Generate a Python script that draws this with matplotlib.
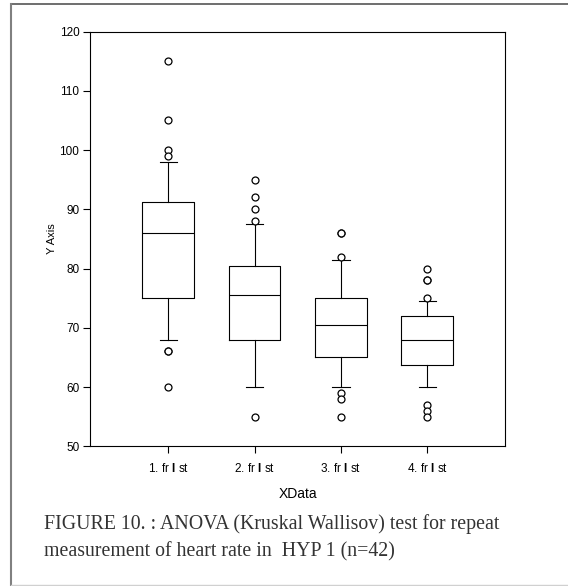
import matplotlib

matplotlib.use("Agg")

import matplotlib.pyplot as plt
from matplotlib.lines import Line2D

plt.rcParams["font.family"] = ["Liberation Sans", "DejaVu Sans"]
plt.rcParams["mathtext.fontset"] = "custom"
plt.rcParams["mathtext.bf"] = "Liberation Sans:bold"
plt.rcParams["mathtext.rm"] = "Liberation Sans"

labels = ["1. fr $\\mathbf{I}$ st", "2. fr $\\mathbf{I}$ st", "3. fr $\\mathbf{I}$ st", "4. fr $\\mathbf{I}$ st"]
q1 = [75, 68, 65, 63.75]
median = [86, 75.5, 70.5, 68]
q3 = [91.25, 80.5, 75, 72]
whisker_low = [68, 60, 60, 60]
whisker_high = [98, 87.5, 81.5, 74.5]
outliers = [
    [115, 105, 100, 99, 66, 66, 60],
    [95, 92, 90, 88, 55],
    [86, 86, 82, 59, 58, 55],
    [80, 78, 78, 75, 57, 56, 55],
]
y_ticks = [50, 60, 70, 80, 90, 100, 110, 120]
caption = [
    "FIGURE 10. : ANOVA (Kruskal Wallisov) test for repeat",
    "measurement of heart rate in  HYP 1 (n=42)",
]

stats = []
for i in range(len(labels)):
    stats.append(dict(q1=q1[i], med=median[i], q3=q3[i], whislo=whisker_low[i],
                      whishi=whisker_high[i], fliers=outliers[i]))

fig = plt.figure(figsize=(5.68, 5.86), dpi=100)
ax = fig.add_axes([0.1593, 0.2384, 0.7297, 0.7078])

line = dict(color="black", linewidth=0.8)
ax.bxp(
    stats,
    positions=[1, 2, 3, 4],
    widths=0.6,
    capwidths=0.2,
    boxprops=line,
    whiskerprops=line,
    capprops=line,
    medianprops=line,
    flierprops=dict(marker="o", markersize=5, markerfacecolor="white",
                    markeredgecolor="black", markeredgewidth=0.9),
)

ax.set_xlim(0.1, 4.9)
ax.set_ylim(50, 120)
ax.set_yticks(y_ticks)
ax.set_xticks([1, 2, 3, 4])
ax.set_xticklabels(labels)
ax.tick_params(direction="out", length=5, width=0.8, labelsize=8.5)
ax.tick_params(axis="x", pad=6)
ax.tick_params(axis="y", pad=3)
for spine in ax.spines.values():
    spine.set_linewidth(0.8)
ax.set_xlabel("XData", fontsize=10, labelpad=9)
ax.set_ylabel("Y Axis", fontsize=8, labelpad=2)

# page frame around the figure
fig.add_artist(Line2D([10.5 / 568, 1], [1 - 4 / 586] * 2, transform=fig.transFigure,
                      color="#555555", linewidth=1.2))
fig.add_artist(Line2D([10.5 / 568] * 2, [1 / 586, 1 - 4 / 586], transform=fig.transFigure,
                      color="#808080", linewidth=1.5))
fig.add_artist(Line2D([10.5 / 568, 1], [1 / 586] * 2, transform=fig.transFigure,
                      color="#d0d0d0", linewidth=1.0))

fig.text(44 / 568, (586 - 529) / 586, caption[0], family="Liberation Serif",
         fontsize=14.3, color="#333333", va="baseline")
fig.text(44 / 568, (586 - 556) / 586, caption[1], family="Liberation Serif",
         fontsize=14.3, color="#333333", va="baseline")

fig.savefig("out.png", dpi=100, facecolor="white")
